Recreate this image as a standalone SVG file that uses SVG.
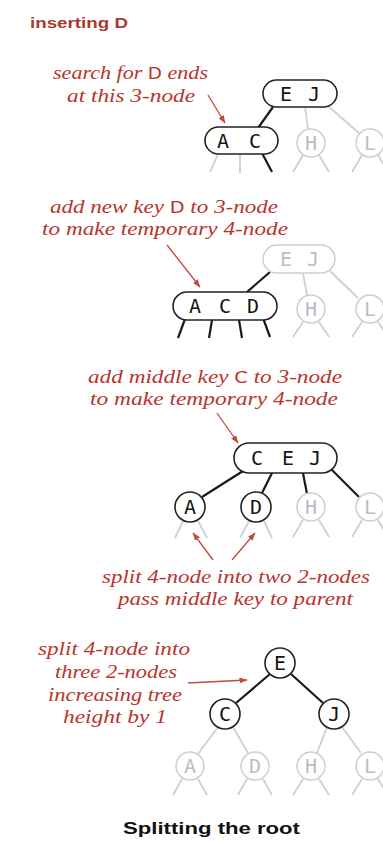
<svg xmlns="http://www.w3.org/2000/svg" width="383" height="844" viewBox="0 0 383 844">
<defs>
<marker id="ah" markerWidth="8" markerHeight="6" refX="7.5" refY="3" orient="auto" markerUnits="userSpaceOnUse">
<path d="M0,0 L8,3 L0,6 Z" fill="#c8463c"/>
</marker>
<style>
.bg{fill:#fff}
.nb{fill:#fff;stroke:#222;stroke-width:1.6}
.ng{fill:#fff;stroke:#cfcfcf;stroke-width:1.5}
.eb{stroke:#1a1a1a;stroke-width:2.2;fill:none}
.eg{stroke:#cfcfcf;stroke-width:1.8;fill:none}
.k{font-family:"DejaVu Sans Mono","Liberation Mono",monospace;font-size:20px;text-anchor:middle;fill:#151515}
.kg{font-family:"DejaVu Sans Mono","Liberation Mono",monospace;font-size:20px;text-anchor:middle;fill:#b9bdc8}
.lbl{font-family:"Liberation Serif","DejaVu Serif",serif;font-style:italic;font-size:18px;fill:#b8352e}
.ks{font-family:"DejaVu Sans","Liberation Sans",sans-serif;font-style:normal;font-size:15px}
.arr{stroke:#c8463c;stroke-width:1.3;fill:none;marker-end:url(#ah)}
.hd{font-family:"Liberation Sans","DejaVu Sans",sans-serif;font-weight:bold;font-size:15px;fill:#a83a30}
.title{font-family:"Liberation Sans","DejaVu Sans",sans-serif;font-weight:bold;font-size:17px;fill:#111}
</style>
</defs>
<rect class="bg" x="0" y="0" width="383" height="844"/>

<text class="hd" x="30" y="28" textLength="98" lengthAdjust="spacingAndGlyphs">inserting <tspan>D</tspan></text>

<g id="connectors">
<line class="eb" x1="273" y1="107" x2="258" y2="128"/>
<line class="eg" x1="305" y1="107" x2="308" y2="129"/>
<line class="eg" x1="328" y1="106" x2="359" y2="133"/>
<line class="eg" x1="218" y1="154" x2="210" y2="172"/>
<line class="eg" x1="240" y1="154" x2="240" y2="173"/>
<line class="eb" x1="262" y1="153" x2="272" y2="172"/>
<line class="eg" x1="303" y1="155" x2="293" y2="172"/>
<line class="eg" x1="319" y1="155" x2="329" y2="172"/>
<line class="eg" x1="362" y1="155" x2="352" y2="172"/>
<line class="eg" x1="378" y1="155" x2="388" y2="172"/>
<line class="eb" x1="270" y1="272" x2="247" y2="292"/>
<line class="eg" x1="303" y1="273" x2="307" y2="295"/>
<line class="eg" x1="330" y1="271" x2="358" y2="298"/>
<line class="eb" x1="185" y1="319" x2="178" y2="338"/>
<line class="eb" x1="212" y1="320" x2="209" y2="338"/>
<line class="eb" x1="239" y1="320" x2="242" y2="338"/>
<line class="eb" x1="263" y1="318" x2="270" y2="337"/>
<line class="eg" x1="303" y1="322" x2="293" y2="337"/>
<line class="eg" x1="319" y1="322" x2="329" y2="337"/>
<line class="eg" x1="362" y1="322" x2="352" y2="337"/>
<line class="eg" x1="378" y1="322" x2="388" y2="337"/>
<line class="eb" x1="243" y1="471" x2="202" y2="497"/>
<line class="eb" x1="272" y1="473" x2="262" y2="493"/>
<line class="eb" x1="303" y1="473" x2="307" y2="494"/>
<line class="eb" x1="331" y1="469" x2="359" y2="497"/>
<line class="eg" x1="183" y1="521" x2="175" y2="538"/>
<line class="eg" x1="198" y1="521" x2="207" y2="538"/>
<line class="eg" x1="249" y1="521" x2="240" y2="538"/>
<line class="eg" x1="264" y1="521" x2="272" y2="538"/>
<line class="eg" x1="303" y1="520" x2="293" y2="537"/>
<line class="eg" x1="319" y1="520" x2="329" y2="537"/>
<line class="eg" x1="362" y1="520" x2="352" y2="537"/>
<line class="eg" x1="378" y1="520" x2="388" y2="537"/>
<line class="eb" x1="270" y1="674" x2="236" y2="703"/>
<line class="eb" x1="291" y1="674" x2="323" y2="703"/>
<line class="eg" x1="218" y1="727" x2="198" y2="754"/>
<line class="eg" x1="233" y1="727" x2="248" y2="753"/>
<line class="eg" x1="327" y1="727" x2="317" y2="753"/>
<line class="eg" x1="342" y1="727" x2="361" y2="753"/>
<line class="eg" x1="182" y1="779" x2="173" y2="795"/>
<line class="eg" x1="198" y1="779" x2="207" y2="795"/>
<line class="eg" x1="247" y1="779" x2="238" y2="795"/>
<line class="eg" x1="263" y1="779" x2="272" y2="795"/>
<line class="eg" x1="303" y1="779" x2="293" y2="795"/>
<line class="eg" x1="319" y1="779" x2="329" y2="795"/>
<line class="eg" x1="362" y1="779" x2="352" y2="795"/>
<line class="eg" x1="378" y1="779" x2="388" y2="795"/>
<line class="arr" x1="208" y1="95" x2="225" y2="123"/>
<line class="arr" x1="167" y1="245" x2="200" y2="287"/>
<line class="arr" x1="217" y1="413" x2="238" y2="443"/>
<line class="arr" x1="213" y1="560" x2="193" y2="533"/>
<line class="arr" x1="232" y1="560" x2="255" y2="533"/>
<line class="arr" x1="188" y1="683" x2="247" y2="680"/>
</g>

<g id="s1-EJ"><rect class="nb" x="263" y="80" width="74" height="27" rx="13.5"/><text class="k" x="286" y="101">E</text><text class="k" x="314" y="101">J</text></g>
<g id="s1-AC"><rect class="nb" x="205" y="127" width="73" height="27" rx="13.5"/><text class="k" x="223" y="148">A</text><text class="k" x="255" y="148">C</text></g>
<g id="s1-H"><circle class="ng" cx="311" cy="143" r="14"/><text class="kg" x="311" y="150">H</text></g>
<g id="s1-L"><circle class="ng" cx="370" cy="143" r="14"/><text class="kg" x="370" y="150">L</text></g>

<g id="s2-EJ"><rect class="ng" x="263" y="245" width="72" height="28" rx="14"/><text class="kg" x="286" y="266">E</text><text class="kg" x="313" y="266">J</text></g>
<g id="s2-ACD"><rect class="nb" x="173" y="292" width="104" height="28" rx="14"/><text class="k" x="195" y="313">A</text><text class="k" x="225" y="313">C</text><text class="k" x="253" y="313">D</text></g>
<g id="s2-H"><circle class="ng" cx="311" cy="309" r="14"/><text class="kg" x="311" y="316">H</text></g>
<g id="s2-L"><circle class="ng" cx="370" cy="309" r="14"/><text class="kg" x="370" y="316">L</text></g>

<g id="s3-CEJ"><rect class="nb" x="234" y="443" width="103" height="30" rx="15"/><text class="k" x="257" y="465">C</text><text class="k" x="288" y="465">E</text><text class="k" x="315" y="465">J</text></g>
<g id="s3-A"><circle class="nb" cx="190" cy="507" r="15"/><text class="k" x="190" y="514">A</text></g>
<g id="s3-D"><circle class="nb" cx="256" cy="507" r="15"/><text class="k" x="256" y="514">D</text></g>
<g id="s3-H"><circle class="ng" cx="311" cy="507" r="14"/><text class="kg" x="311" y="514">H</text></g>
<g id="s3-L"><circle class="ng" cx="370" cy="507" r="14"/><text class="kg" x="370" y="514">L</text></g>

<g id="s4-E"><circle class="nb" cx="280" cy="663" r="15"/><text class="k" x="280" y="670">E</text></g>
<g id="s4-C"><circle class="nb" cx="225" cy="714" r="15"/><text class="k" x="225" y="721">C</text></g>
<g id="s4-J"><circle class="nb" cx="334" cy="714" r="15"/><text class="k" x="334" y="721">J</text></g>
<g id="s4-A"><circle class="ng" cx="190" cy="766" r="14"/><text class="kg" x="190" y="773">A</text></g>
<g id="s4-D"><circle class="ng" cx="255" cy="766" r="14"/><text class="kg" x="255" y="773">D</text></g>
<g id="s4-H"><circle class="ng" cx="311" cy="766" r="14"/><text class="kg" x="311" y="773">H</text></g>
<g id="s4-L"><circle class="ng" cx="370" cy="766" r="14"/><text class="kg" x="370" y="773">L</text></g>

<g id="labels">
<text class="lbl" x="53" y="79" textLength="155" lengthAdjust="spacingAndGlyphs">search for <tspan class="ks">D</tspan> ends</text>
<text class="lbl" x="67" y="102" textLength="128" lengthAdjust="spacingAndGlyphs">at this 3-node</text>
<text class="lbl" x="50" y="213" textLength="228" lengthAdjust="spacingAndGlyphs">add new key <tspan class="ks">D</tspan> to 3-node</text>
<text class="lbl" x="42" y="235" textLength="246" lengthAdjust="spacingAndGlyphs">to make temporary 4-node</text>
<text class="lbl" x="88" y="383" textLength="254" lengthAdjust="spacingAndGlyphs">add middle key <tspan class="ks">C</tspan> to 3-node</text>
<text class="lbl" x="90" y="405" textLength="248" lengthAdjust="spacingAndGlyphs">to make temporary 4-node</text>
<text class="lbl" x="102" y="583" textLength="268" lengthAdjust="spacingAndGlyphs">split 4-node into two 2-nodes</text>
<text class="lbl" x="118" y="605" textLength="235" lengthAdjust="spacingAndGlyphs">pass middle key to parent</text>
<text class="lbl" x="38" y="655" textLength="152" lengthAdjust="spacingAndGlyphs">split 4-node into</text>
<text class="lbl" x="55" y="678" textLength="122" lengthAdjust="spacingAndGlyphs">three 2-nodes</text>
<text class="lbl" x="48" y="701" textLength="134" lengthAdjust="spacingAndGlyphs">increasing tree</text>
<text class="lbl" x="63" y="723" textLength="104" lengthAdjust="spacingAndGlyphs">height by 1</text>
</g>

<text class="title" x="123" y="834" textLength="177" lengthAdjust="spacingAndGlyphs">Splitting the root</text>
</svg>
